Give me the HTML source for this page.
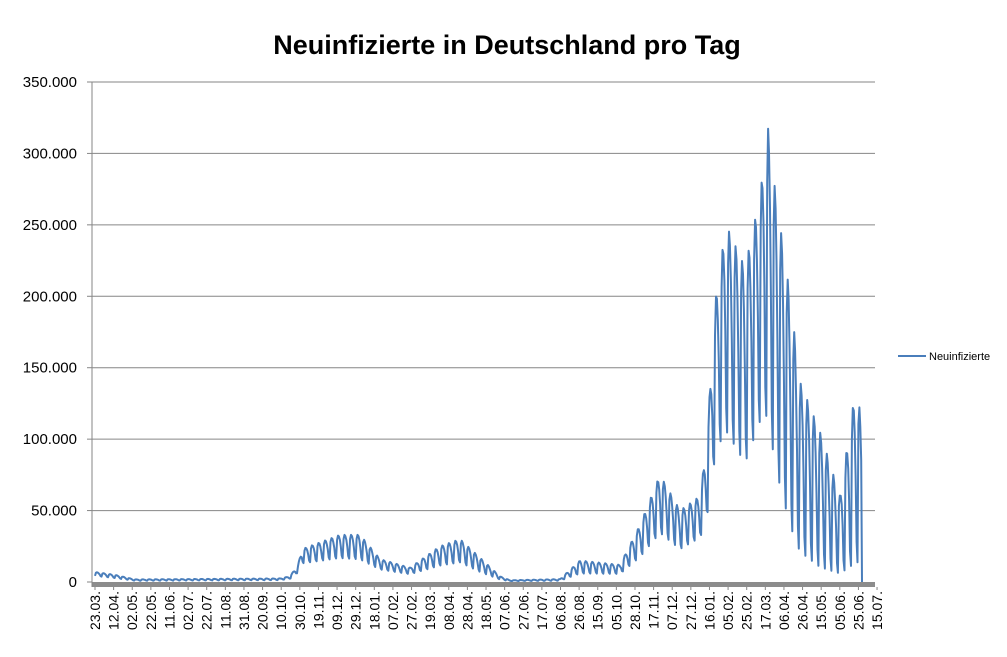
<!DOCTYPE html>
<html><head><meta charset="utf-8"><style>
html,body{margin:0;padding:0;background:#fff;}
svg{display:block;font-family:"Liberation Sans",sans-serif;}
</style></head><body>
<svg id="c" width="1007" height="657" viewBox="0 0 1007 657" xmlns="http://www.w3.org/2000/svg">
<text x="507" y="54" text-anchor="middle" font-size="27" font-weight="bold" fill="#000">Neuinfizierte in Deutschland pro Tag</text>
<g id="grid"></g>
<rect x="92" y="582" width="783" height="5" fill="#8c8c8c"/>
<line x1="92" y1="82" x2="92" y2="587" stroke="#868686" stroke-width="1"/>
<g id="xl" font-size="14" fill="#000"></g>
<polyline id="ln" fill="none" stroke="#4a7ebb" stroke-width="2" stroke-linejoin="round"/>
<line x1="898" y1="356" x2="926" y2="356" stroke="#4a7ebb" stroke-width="2"/>
<text x="929" y="360" font-size="11" fill="#000">Neuinfizierte</text>
</svg>
<script>
var NS="http://www.w3.org/2000/svg",g=document.getElementById('grid');
function el(t,a,p,txt){var e=document.createElementNS(NS,t);for(var k in a)e.setAttribute(k,a[k]);if(txt!=null)e.textContent=txt;p.appendChild(e);return e;}
var yl=["0","50.000","100.000","150.000","200.000","250.000","300.000","350.000"];
for(var i=0;i<8;i++){var y=582-i*71.43;
 if(i>0)el('line',{x1:92,x2:875,y1:y,y2:y,stroke:'#868686','stroke-width':1},g);
 el('line',{x1:87,x2:92,y1:y,y2:y,stroke:'#868686'},g);
 el('text',{x:77,y:y+5,'text-anchor':'end','font-size':15,fill:'#000'},g,yl[i]);}
var xs="23.03. 12.04. 02.05. 22.05. 11.06. 02.07. 22.07. 11.08. 31.08. 20.09. 10.10. 30.10. 19.11. 09.12. 29.12. 18.01. 07.02. 27.02. 19.03. 08.04. 28.04. 18.05. 07.06. 27.06. 17.07. 06.08. 26.08. 15.09. 05.10. 28.10. 17.11. 07.12. 27.12. 16.01. 05.02. 25.02. 17.03. 06.04. 26.04. 15.05. 05.06. 25.06. 15.07.".split(" ");
var xl=document.getElementById('xl');
xs.forEach(function(s,i){var x=95+i*18.62;
 el('text',{x:0,y:0,'text-anchor':'end',transform:'translate('+(x+5)+',591) rotate(-90)'},xl,s);
 el('line',{x1:x,x2:x,y1:587,y2:590,stroke:'#868686'},g);});
var K=[[95,7000,4000],[115,5000,2500],[135,1800,800],[280,2500,1200],[290,4000,2000],[298,12000,6000],[302,23000,12000],[340,33000,15000],[360,33000,14000],[380,16000,8000],[410,10000,5000],[440,25000,10000],[460,30000,12000],[480,17000,6000],[500,4000,1500],[510,1200,600],[560,2000,800],[580,15000,5000],[620,12000,5000],[640,40000,15000],[660,75000,30000],[680,50000,20000],[700,60000,28000],[706,92000,35000],[716,200000,80000],[726,250000,90000],[745,220000,68000],[760,270000,95000],[768,318000,95000],[775,275000,60000],[790,200000,22000],[800,140000,8000],[820,105000,0],[840,60000,0],[850,108000,0],[857,142000,0],[862,100000,0]];
function env(x){for(var i=0;i<K.length-1;i++){if(x<=K[i+1][0]){var t=(x-K[i][0])/(K[i+1][0]-K[i][0]);return[K[i][1]+t*(K[i+1][1]-K[i][1]),K[i][2]+t*(K[i+1][2]-K[i][2])];}}return[K[K.length-1][1],0];}
var f=[0.1,0.85,1,0.95,0.8,0.55,0.2],pts=[];
for(var d=0;;d++){var x=95+d*0.931;if(x>862)break;var e=env(x);var v=e[1]+(e[0]-e[1])*f[d%7];pts.push(x.toFixed(1)+','+(582-v/350000*500).toFixed(1));}
pts.push('862,582');
document.getElementById('ln').setAttribute('points',pts.join(' '));
</script>
</body></html>
